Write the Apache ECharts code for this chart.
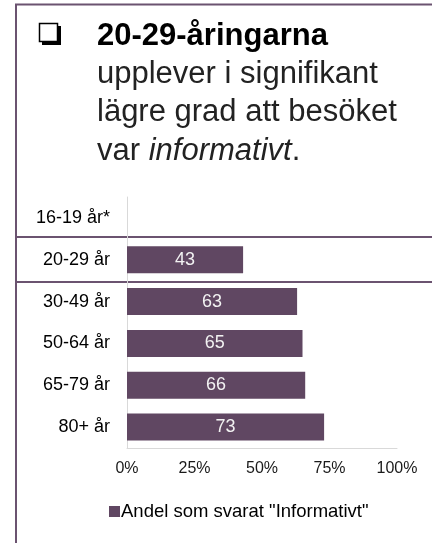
<!DOCTYPE html>
<html>
<head>
<meta charset="utf-8">
<script src="https://cdn.jsdelivr.net/npm/echarts@6/dist/echarts.min.js"></script>
<style>
  html, body { margin: 0; padding: 0; background: #fff; }
  #chart { width: 432px; height: 543px; }
</style>
</head>
<body>
<div id="chart"></div>
<script>
// data
var categories = ['16-19 år*', '20-29 år', '30-49 år', '50-64 år', '65-79 år', '80+ år'];
var values = [null, 43, 63, 65, 66, 73];
var seriesName = 'Andel som svarat "Informativt"';
var titleBold = '20-29-åringarna';
var titleLines = ['upplever i signifikant', 'lägre grad att besöket'];

var purple = '#604762';
var frame = '#6b5370';
var font = '"Liberation Sans", Arial, sans-serif';

var myChart = echarts.init(document.getElementById('chart'));

var option = {
  backgroundColor: '#fff',
  animation: false,
  textStyle: { fontFamily: font },
  grid: { left: 127, right: 35, top: 197, bottom: 95 },
  legend: {
    left: 104,
    top: 497,
    icon: 'rect',
    itemWidth: 11,
    itemHeight: 11,
    itemGap: 4,
    textStyle: { fontSize: 18.5, color: '#000', fontFamily: font, padding: [0, 0, 0, -4] },
    data: [seriesName]
  },
  xAxis: {
    type: 'value',
    min: 0,
    max: 100,
    interval: 25,
    axisLine: { show: true, lineStyle: { color: '#d9d9d9', width: 1 } },
    axisTick: { show: false },
    splitLine: { show: false },
    axisLabel: { formatter: '{value}%', color: '#1a1a1a', fontSize: 16, margin: 13, fontFamily: font }
  },
  yAxis: {
    type: 'category',
    inverse: true,
    data: categories,
    axisLine: { show: true, lineStyle: { color: '#d9d9d9', width: 1 } },
    axisTick: { show: false },
    axisLabel: { color: '#000', fontSize: 18, margin: 17, fontFamily: font }
  },
  series: [{
    name: seriesName,
    type: 'bar',
    data: values,
    barWidth: 27,
    itemStyle: { color: purple },
    label: { show: true, position: 'inside', color: '#f2f2f2', fontSize: 18, fontFamily: font }
  }],
  graphic: [
    // ram
    { type: 'line', shape: { x1: 16, y1: 4, x2: 16, y2: 543 }, style: { stroke: frame, lineWidth: 2 } },
    { type: 'line', shape: { x1: 15, y1: 4.5, x2: 432, y2: 4.5 }, style: { stroke: frame, lineWidth: 2 } },
    { type: 'line', shape: { x1: 16, y1: 237, x2: 432, y2: 237 }, style: { stroke: frame, lineWidth: 2 } },
    { type: 'line', shape: { x1: 16, y1: 282, x2: 432, y2: 282 }, style: { stroke: frame, lineWidth: 2 } },
    // kryssruta
    { type: 'rect', shape: { x: 42, y: 26, width: 19, height: 19 }, style: { fill: '#000' } },
    { type: 'rect', shape: { x: 39.5, y: 23.5, width: 18, height: 18 }, style: { fill: '#fff', stroke: '#000', lineWidth: 1.5 } },
    // rubrik
    { type: 'text', x: 97, y: 36, style: { text: titleBold, font: 'bold 31px ' + font, fill: '#000', verticalAlign: 'middle' } },
    { type: 'text', x: 97, y: 74, style: { text: titleLines[0], font: '31px ' + font, fill: '#222', verticalAlign: 'middle' } },
    { type: 'text', x: 97, y: 112.5, style: { text: titleLines[1], font: '31px ' + font, fill: '#222', verticalAlign: 'middle' } },
    { type: 'text', x: 97, y: 151, style: {
      text: '{n|var }{i|informativt}{n|.}',
      verticalAlign: 'middle',
      rich: {
        n: { font: '31px ' + font, fill: '#222' },
        i: { font: 'italic 31px ' + font, fill: '#222' }
      }
    } }
  ]
};

myChart.setOption(option);
</script>
</body>
</html>
